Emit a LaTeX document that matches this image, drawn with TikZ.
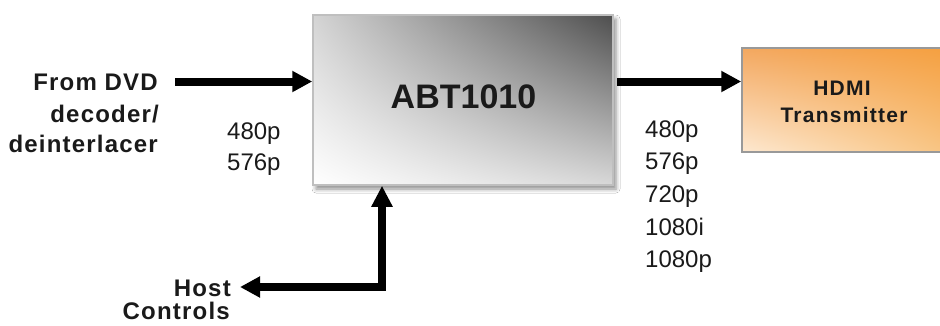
\documentclass[tikz,border=0pt]{standalone}
\usepackage{fontspec}
\setmainfont{Liberation Sans}
\newfontfamily\lblfont[LetterSpace=5]{Liberation Sans}
\newfontfamily\hdfont[LetterSpace=6]{Liberation Sans}
\usetikzlibrary{arrows.meta,shadows.blur,shadings}
\definecolor{txt}{HTML}{1A1A1A}
\definecolor{abtUL}{HTML}{D4D4D4}
\definecolor{abtUR}{HTML}{4E4E4E}
\definecolor{abtLL}{HTML}{FFFFFF}
\definecolor{abtLR}{HTML}{D8D8D8}
\definecolor{hdUL}{HTML}{F3A860}
\definecolor{hdUR}{HTML}{F5A040}
\definecolor{hdLL}{HTML}{FDE8D0}
\definecolor{hdLR}{HTML}{F8C482}
\tikzset{
  lbl/.style={inner sep=0pt, text=txt, font=\lblfont\fontsize{24}{28}\selectfont\bfseries},
  num/.style={inner sep=0pt, text=txt, font=\fontsize{24}{28}\selectfont, anchor=base west},
  bigarrow/.style={line width=8pt, draw=black, -{Triangle[length=20pt,width=20pt]}},
  bigarrowboth/.style={line width=8pt, draw=black, {Triangle[length=20pt,width=20pt]}-{Triangle[length=21pt,width=20pt]}},
  abtbox/.style={draw=gray!50, line width=1.5pt, shade,
    upper left=abtUL, upper right=abtUR, lower left=abtLL, lower right=abtLR,
    blur shadow={shadow xshift=3pt, shadow yshift=-4pt, shadow blur radius=4pt, shadow opacity=45},
    minimum width=300pt, minimum height=170pt, inner sep=0pt},
  hdmibox/.style={draw=gray!80, line width=1.5pt, shade,
    upper left=hdUL, upper right=hdUR, lower left=hdLL, lower right=hdLR,
    minimum width=205pt, minimum height=104pt, inner sep=0pt},
  hdlbl/.style={inner sep=0pt, text=txt, anchor=base, font=\hdfont\fontsize{21}{24}\selectfont\bfseries}
}
\begin{document}
\begin{tikzpicture}[x=1pt,y=-1pt]
\useasboundingbox (0,0) rectangle (940,325);
\clip (0,0) rectangle (940,325);
\fill[white] (0,0) rectangle (940,325);
% boxes
\node[abtbox] (abt) at (463,100) {};
\node[inner sep=0pt, text=txt, anchor=base, font=\fontsize{34}{38}\selectfont\bfseries] (abtlbl) at (463.5,108) {ABT1010};
\node[hdmibox] (hdmi) at (844.5,100) {};
\node[hdlbl] (hdmi1) at (842,95) {HDMI};
\node[hdlbl] (hdmi2) at (844,122) {Transmitter};
% left labels
\node[lbl, anchor=base east] (from) at (158,90) {From DVD};
\node[lbl, anchor=base east] (dec) at (159,122) {decoder/};
\node[lbl, anchor=base east] (deint) at (158,152) {deinterlacer};
\node[num] (in480) at (227,139) {480p};
\node[num] (in576) at (227,170) {576p};
% right labels
\node[num] (o480) at (645,137) {480p};
\node[num] (o576) at (645,169) {576p};
\node[num] (o720) at (645,202) {720p};
\node[num] (o1080i) at (645,235) {1080i};
\node[num] (o1080p) at (645,267) {1080p};
% host
\node[lbl, anchor=base east] (host) at (231,296) {Host};
\node[lbl, anchor=base east] (ctrl) at (230,319) {Controls};
% arrows
\coordinate (inS) at (175,81.5);
\draw[bigarrow] (inS) -- (inS -| abt.west);
\coordinate (outS) at (617,81.5);
\draw[bigarrow] (outS) -- (outS -| hdmi.west);
\coordinate (hc) at (382,287);
\draw[bigarrowboth, line join=miter] ([xshift=9pt]host.east |- hc) -- (hc) -- (hc |- abt.south);
\end{tikzpicture}
\end{document}
